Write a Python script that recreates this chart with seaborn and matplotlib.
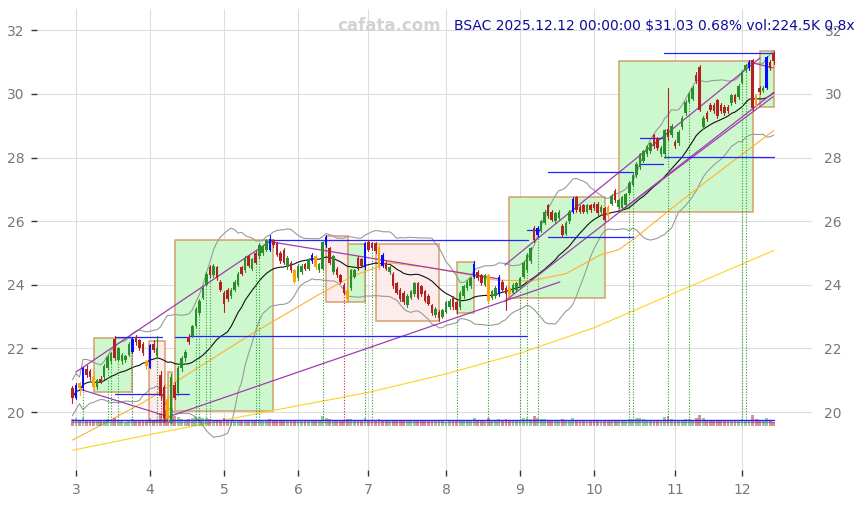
import numpy as np
import pandas as pd
import matplotlib
matplotlib.use("Agg")
import matplotlib.pyplot as plt
import seaborn as sns
from matplotlib.patches import Rectangle

# ---------------- data (trading-day index 0..199, Feb 28 - Dec 12 2025) ----------------
opens = [
    20.75, 20.45, 20.90, 20.75, 21.35, 21.30, 21.10, 20.80, 21.05, 21.10,
    21.40, 21.60, 22.30, 21.65, 21.60, 21.65, 21.80, 21.90, 22.35, 22.25,
    22.15, 21.60, 21.40, 22.15, 21.75, 21.15, 20.80, 20.40, 19.75, 20.85,
    20.60, 21.40, 21.70, 22.35, 22.40, 22.70, 23.10, 23.60, 24.00, 24.55,
    24.30, 24.55, 24.10, 23.75, 23.85, 23.65, 23.85, 24.00, 24.55, 24.45,
    24.90, 24.50, 25.00, 24.90, 25.00, 25.10, 25.45, 25.40, 25.30, 25.00,
    25.10, 24.55, 24.70, 24.45, 24.20, 24.40, 24.65, 24.50, 24.75, 24.90,
    24.45, 24.50, 25.25, 25.15, 24.40, 24.50, 24.30, 24.00, 23.85, 23.90,
    24.25, 24.85, 24.80, 24.55, 25.35, 25.30, 25.30, 25.20, 24.95, 24.70,
    24.40, 24.35, 24.05, 23.85, 23.75, 23.35, 23.60, 23.70, 24.05, 23.95,
    23.80, 23.65, 23.35, 23.05, 23.15, 23.00, 23.15, 23.30, 23.60, 23.45,
    23.30, 23.65, 23.90, 23.95, 24.25, 24.40, 24.30, 24.00, 24.30, 23.60,
    23.65, 23.70, 24.10, 23.90, 23.90, 23.75, 23.85, 23.95, 24.25, 24.45,
    24.75, 25.80, 25.55, 25.70, 25.95, 26.50, 26.30, 26.00, 26.10, 25.85,
    25.60, 26.00, 26.30, 26.75, 26.45, 26.50, 26.30, 26.50, 26.55, 26.55,
    26.30, 26.40, 26.45, 26.55, 26.95, 26.45, 26.40, 26.50, 26.90, 27.15,
    27.45, 27.70, 27.90, 28.10, 28.20, 28.70, 28.60, 28.10, 28.10, 28.90,
    28.70, 28.50, 28.45, 28.95, 29.40, 29.75, 29.85, 30.60, 30.85, 28.95,
    29.40, 29.65, 29.65, 29.80, 29.65, 29.60, 29.60, 29.70, 29.95, 29.90,
    30.35, 30.75, 30.80, 31.05, 29.95, 30.20, 30.10, 30.20, 31.00, 31.30,
]
highs = [
    20.82, 20.90, 20.95, 21.42, 21.48, 21.35, 21.22, 21.05, 21.12, 21.50,
    21.78, 21.90, 22.38, 22.05, 21.85, 21.80, 22.20, 22.35, 22.42, 22.30,
    22.20, 21.65, 22.15, 22.25, 22.40, 21.30, 20.85, 20.50, 21.20, 20.95,
    21.45, 21.75, 21.95, 22.45, 22.75, 23.30, 23.55, 23.95, 24.40, 24.62,
    24.65, 24.60, 24.15, 23.80, 23.90, 23.90, 24.15, 24.40, 24.60, 24.90,
    24.95, 24.85, 25.05, 25.30, 25.25, 25.45, 25.55, 25.45, 25.35, 25.05,
    25.15, 24.90, 24.75, 24.50, 24.65, 24.65, 24.70, 24.85, 25.00, 24.95,
    24.70, 25.40, 25.55, 25.20, 24.95, 24.55, 24.35, 24.05, 23.90, 24.50,
    24.50, 24.90, 24.85, 25.35, 25.40, 25.35, 25.35, 25.25, 25.00, 24.75,
    24.60, 24.40, 24.10, 23.90, 23.80, 23.70, 23.85, 24.10, 24.10, 24.00,
    23.85, 23.70, 23.40, 23.30, 23.20, 23.25, 23.50, 23.55, 23.65, 23.50,
    23.80, 24.00, 24.15, 24.25, 24.75, 24.45, 24.35, 24.35, 24.35, 23.85,
    23.95, 24.30, 24.15, 23.95, 23.95, 24.05, 24.10, 24.25, 24.75, 25.00,
    25.20, 25.85, 25.85, 26.05, 26.35, 26.55, 26.35, 26.30, 26.35, 25.90,
    26.00, 26.35, 26.75, 26.80, 26.50, 26.55, 26.55, 26.55, 26.60, 26.60,
    26.50, 26.45, 26.50, 26.85, 27.00, 26.70, 26.80, 26.90, 27.25, 27.50,
    27.85, 28.15, 28.25, 28.40, 28.50, 28.75, 28.65, 28.35, 28.90, 30.20,
    29.05, 28.55, 28.85, 29.30, 29.80, 30.05, 30.25, 30.70, 30.90, 29.30,
    29.45, 29.70, 29.70, 29.85, 29.70, 29.65, 29.65, 30.00, 30.00, 30.30,
    30.75, 30.95, 31.05, 31.10, 30.00, 30.25, 30.25, 31.20, 31.05, 31.35,
]
lows = [
    20.28, 20.40, 20.55, 20.70, 21.10, 21.00, 20.70, 20.72, 20.90, 21.05,
    21.35, 21.55, 21.65, 21.60, 21.50, 21.58, 21.75, 21.85, 22.10, 21.95,
    21.80, 21.35, 21.38, 21.90, 21.70, 20.40, 19.70, 19.72, 19.65, 20.40,
    20.55, 21.30, 21.60, 22.15, 22.35, 22.65, 23.05, 23.55, 23.95, 24.25,
    24.25, 24.15, 23.80, 23.15, 23.50, 23.60, 23.80, 23.95, 24.30, 24.40,
    24.55, 24.45, 24.65, 24.85, 24.95, 25.05, 25.05, 25.20, 24.90, 24.70,
    24.65, 24.50, 24.40, 24.05, 24.15, 24.35, 24.45, 24.45, 24.70, 24.50,
    24.40, 24.45, 25.20, 24.65, 24.35, 24.25, 24.05, 23.70, 23.50, 23.85,
    24.20, 24.45, 24.55, 24.50, 25.05, 25.10, 25.00, 24.50, 24.55, 24.45,
    24.35, 23.90, 23.70, 23.50, 23.40, 23.30, 23.55, 23.65, 23.55, 23.65,
    23.45, 23.35, 23.05, 23.00, 22.85, 22.95, 23.10, 23.25, 23.25, 23.10,
    23.25, 23.60, 23.85, 23.90, 24.20, 24.15, 24.00, 23.95, 23.45, 23.55,
    23.60, 23.65, 23.80, 23.20, 23.65, 23.70, 23.80, 23.90, 24.20, 24.40,
    24.70, 25.35, 25.50, 25.65, 25.90, 26.10, 26.00, 25.95, 26.05, 25.50,
    25.55, 25.95, 26.25, 26.30, 26.25, 26.25, 26.25, 26.30, 26.35, 26.20,
    26.25, 26.00, 26.10, 26.50, 26.60, 26.40, 26.35, 26.45, 26.85, 27.10,
    27.40, 27.65, 27.85, 28.05, 28.15, 28.30, 28.25, 28.05, 28.00, 28.55,
    28.65, 28.30, 28.40, 28.90, 29.35, 29.70, 29.80, 30.35, 29.45, 28.90,
    29.15, 29.45, 29.40, 29.25, 29.40, 29.35, 29.40, 29.65, 29.70, 29.85,
    30.30, 30.70, 30.75, 29.50, 29.60, 30.00, 30.05, 30.15, 30.75, 30.95,
]
closes = [
    20.45, 20.85, 20.75, 21.40, 21.15, 21.10, 20.80, 21.00, 20.95, 21.45,
    21.72, 21.85, 21.70, 22.00, 21.80, 21.75, 22.15, 22.30, 22.20, 22.00,
    21.85, 21.45, 22.10, 21.95, 22.00, 20.50, 19.80, 19.80, 21.10, 20.45,
    21.40, 21.70, 21.90, 22.20, 22.70, 23.25, 23.50, 23.90, 24.35, 24.30,
    24.60, 24.20, 23.85, 23.40, 23.55, 23.85, 24.10, 24.35, 24.35, 24.85,
    24.60, 24.80, 24.70, 25.25, 25.20, 25.40, 25.10, 25.25, 24.95, 24.75,
    24.70, 24.85, 24.45, 24.10, 24.60, 24.60, 24.50, 24.80, 24.95, 24.55,
    24.65, 25.35, 25.50, 24.70, 24.90, 24.30, 24.10, 23.75, 23.55, 24.45,
    24.45, 24.50, 24.60, 25.30, 25.10, 25.15, 25.05, 24.55, 24.60, 24.50,
    24.55, 23.95, 23.75, 23.55, 23.45, 23.65, 23.80, 24.05, 23.60, 23.70,
    23.50, 23.40, 23.10, 23.25, 22.95, 23.20, 23.45, 23.50, 23.30, 23.20,
    23.75, 23.95, 24.10, 24.20, 24.65, 24.20, 24.05, 24.30, 23.50, 23.80,
    23.90, 24.25, 23.85, 23.70, 23.70, 24.00, 24.05, 24.20, 24.70, 24.95,
    25.15, 25.40, 25.80, 26.00, 26.30, 26.15, 26.05, 26.25, 26.30, 25.55,
    25.95, 26.30, 26.70, 26.35, 26.30, 26.30, 26.50, 26.35, 26.40, 26.25,
    26.45, 26.05, 26.15, 26.80, 26.65, 26.65, 26.75, 26.85, 27.20, 27.45,
    27.80, 28.10, 28.20, 28.35, 28.45, 28.35, 28.30, 28.30, 28.85, 28.65,
    29.00, 28.35, 28.80, 29.25, 29.75, 30.00, 30.20, 30.40, 29.50, 29.25,
    29.20, 29.50, 29.45, 29.30, 29.45, 29.40, 29.45, 29.95, 29.75, 30.25,
    30.70, 30.90, 31.00, 29.55, 29.65, 30.05, 30.20, 31.15, 30.82, 31.03,
]
volumes_k = [
    380, 420, 350, 510, 330, 300, 360, 280, 290, 340,
    390, 310, 450, 300, 260, 250, 330, 370, 290, 280,
    310, 350, 420, 300, 380, 720, 880, 760, 950, 520,
    480, 410, 360, 390, 420, 510, 470, 440, 460, 380,
    350, 330, 360, 420, 340, 290, 300, 320, 310, 350,
    300, 280, 330, 360, 290, 340, 400, 310, 330, 300,
    350, 290, 280, 340, 310, 270, 260, 300, 330, 290,
    280, 520, 440, 380, 330, 300, 310, 350, 400, 370,
    290, 310, 280, 460, 330, 300, 280, 370, 340, 290,
    260, 330, 350, 320, 310, 290, 270, 300, 320, 280,
    300, 290, 340, 280, 310, 260, 250, 270, 300, 280,
    330, 310, 290, 300, 420, 310, 280, 300, 450, 320,
    290, 380, 300, 410, 330, 290, 310, 300, 420, 450,
    400, 520, 430, 380, 410, 360, 330, 300, 290, 380,
    320, 300, 420, 350, 290, 280, 260, 270, 300, 290,
    280, 330, 350, 300, 310, 290, 300, 310, 380, 400,
    430, 420, 380, 350, 360, 340, 310, 300, 480, 560,
    380, 330, 300, 350, 400, 380, 360, 420, 600, 450,
    330, 300, 290, 340, 310, 280, 290, 320, 300, 330,
    380, 350, 330, 620, 380, 300, 290, 430, 280, 224.5,
]
blue_days = [1, 3, 17, 22, 56, 68, 72, 83, 88, 114, 121, 132, 142, 192, 197]
orange_days = [2, 6, 21, 27, 63, 69, 78, 87, 118, 124, 152, 194]
green_signal_days = [3, 10, 11, 13, 17, 24, 35, 36, 38, 39, 52, 53, 71, 83, 85,
                     109, 118, 127, 129, 132, 158, 159, 169, 175, 190, 191]
red_signal_days = [25, 27, 77]

month_tick_pos = [1, 22, 43, 64, 84, 106, 127, 148, 171, 190]
month_tick_labels = ["3", "4", "5", "6", "7", "8", "9", "10", "11", "12"]
price_ticks = [20, 22, 24, 26, 28, 30, 32]

# long moving averages (need history before the window)
ma_mid_idx = [0, 10, 20, 30, 40, 50, 60, 70, 80, 90, 100, 110, 120, 130, 140,
              150, 155, 160, 170, 180, 190, 199]
ma_mid_val = [19.12, 19.70, 20.30, 21.00, 21.70, 22.40, 23.05, 23.70, 24.30, 24.69,
              24.56, 24.37, 24.15, 24.12, 24.35, 24.95, 25.10, 25.50, 26.40, 27.26,
              28.10, 28.85]
ma_long_idx = [0, 20, 43, 64, 84, 106, 127, 148, 171, 190, 199]
ma_long_val = [18.80, 19.25, 19.75, 20.20, 20.62, 21.20, 21.85, 22.65, 23.75, 24.65, 25.08]

# consolidation boxes
box_start = [6.1, 21.7, 27.1, 29.1, 72.0, 78.2, 86.1, 109.1, 123.9, 155.1, 195.1]
box_end = [16.9, 26.3, 28.2, 57.0, 78.2, 83.0, 104.0, 113.9, 151.1, 193.1, 199.1]
box_low = [20.63, 19.70, 19.70, 20.03, 23.46, 23.46, 22.86, 23.11, 23.58, 26.29, 29.59]
box_high = [22.33, 22.23, 21.26, 25.41, 25.53, 25.28, 25.28, 24.72, 26.76, 31.04, 31.35]
box_kind = ["up", "down", "up", "up", "down", "up", "down", "up", "up", "up", "up"]

# trend lines
trend_x0 = [1.0, 2.1, 56.3, 27.7, 122.7, 122.7, 155.1, 193.1]
trend_y0 = [21.26, 20.72, 25.35, 19.87, 24.62, 23.49, 26.29, 30.97]
trend_x1 = [56.6, 27.7, 121.3, 138.3, 195.1, 198.8, 198.8, 198.8]
trend_y1 = [25.41, 19.84, 24.18, 24.09, 31.13, 30.03, 29.91, 30.82]

# horizontal support / resistance levels
level_start = [12.0, 12.0, 29.0, 29.0, 33.0, 56.0, 135.0, 135.0, 161.0, 161.0, 167.9, 167.9, 129.0]
level_end = [25.5, 25.5, 33.0, 33.0, 128.9, 129.3, 159.0, 159.0, 167.5, 167.5, 199.1, 199.1, 133.0]
level_price = [22.36, 20.57, 22.36, 20.57, 22.40, 25.41, 27.55, 25.50, 28.62, 27.80, 28.02, 31.29, 25.72]

title_text = "BSAC 2025.12.12 00:00:00 $31.03 0.68% vol:224.5K 0.8x"
watermark = "cafata.com"

# ---------------- drawing ----------------
sns.set_theme(style="whitegrid")
plt.rcParams['font.family'] = ['DejaVu Sans']

fig = plt.figure(figsize=(8.64, 5.05), dpi=100)
ax = fig.add_axes([0.0428, 0.0693, 0.897, 0.913])

n = len(closes)
idx = np.arange(n)
df = pd.DataFrame({"i": idx, "open": opens, "high": highs, "low": lows,
                   "close": closes, "vol": volumes_k})

# boxes
for s, e, lo, hi, k in zip(box_start, box_end, box_low, box_high, box_kind):
    fc = "#c8f8c8" if k == "up" else "#fdeaea"
    ax.add_patch(Rectangle((s, lo), e - s, hi - lo, facecolor=fc, edgecolor="#d4955f",
                           linewidth=1.1, alpha=0.9, zorder=1))

# indicators
ma20 = df["close"].rolling(20, min_periods=1).mean()
sd20 = df["close"].rolling(20, min_periods=2).std().bfill()
sns.lineplot(x=idx, y=ma20 + 2 * sd20, ax=ax, color="#9a9a9a", linewidth=0.8, zorder=2)
sns.lineplot(x=idx, y=ma20 - 2 * sd20, ax=ax, color="#9a9a9a", linewidth=0.8, zorder=2)
sns.lineplot(x=idx, y=ma20, ax=ax, color="#111111", linewidth=0.8, zorder=2)
sns.lineplot(x=ma_mid_idx, y=ma_mid_val, ax=ax, color="#ffb02e", linewidth=0.8, zorder=2)
sns.lineplot(x=ma_long_idx, y=ma_long_val, ax=ax, color="#ffd21f", linewidth=0.8, zorder=2)

# trend lines
for x0, y0, x1, y1 in zip(trend_x0, trend_y0, trend_x1, trend_y1):
    ax.plot([x0, x1], [y0, y1], color="#a03cb0", linewidth=0.9, zorder=3)

# levels
for s, e, p in zip(level_start, level_end, level_price):
    ax.plot([s, e], [p, p], color="#2323ff", linewidth=0.9, zorder=3)

# signal dotted lines
for d in green_signal_days:
    ax.plot([d, d], [19.75, lows[d]], color="#2ca02c", linestyle=(0, (1, 1.5)), linewidth=0.8, zorder=2)
for d in red_signal_days:
    ax.plot([d, d], [19.75, lows[d]], color="#d62728", linestyle=(0, (1, 1.5)), linewidth=0.8, zorder=2)

# volume bars at the bottom
vol_base = 19.55
vol_scale = 0.0006
vcolors = ["#2e9a2e" if c >= o else "#b22222" for o, c in zip(opens, closes)]
ax.bar(idx, df["vol"] * vol_scale, bottom=vol_base, width=0.8, color=vcolors, alpha=0.5,
       linewidth=0, zorder=3)
ax.plot([0, n - 1], [19.76, 19.76], color="#2323ff", linewidth=1.0, zorder=3)
ax.plot([0, n - 1], [19.70, 19.70], color="#8e4a9a", linewidth=0.8, alpha=0.7, zorder=3)

# candles
for i in range(n):
    o, h, l, c = opens[i], highs[i], lows[i], closes[i]
    if i in blue_days:
        col = "#0a0aff"
    elif i in orange_days:
        col = "#ffa500"
    else:
        col = "#2a8f2a" if c >= o else "#b22222"
    ax.plot([i, i], [l, h], color=col, linewidth=0.8, zorder=4)
    body = max(abs(c - o), 0.02)
    ax.bar(i, body, bottom=min(o, c), width=0.72, color=col, linewidth=0, zorder=5)

# axes styling
ax.set_xlim(-10.07, 209.85)
ax.set_ylim(18.18, 32.67)
ax.set_xticks(month_tick_pos)
ax.set_xticklabels(month_tick_labels)
ax.set_yticks(price_ticks)
ax.set_xlabel("")
ax.set_ylabel("")
for sp in ax.spines.values():
    sp.set_visible(False)
ax.grid(True, color="#dddddd", linewidth=0.8)
ax.set_axisbelow(True)
ax.tick_params(axis="both", colors="#777777", labelsize=10)
ax.tick_params(axis="y", left=True, right=False, labelleft=True, labelright=True,
               length=4, width=1, color="#333333", pad=5)
ax.tick_params(axis="x", bottom=True, length=4, width=1, color="#333333", pad=5)
for lab in ax.get_yticklabels() + ax.get_xticklabels():
    lab.set_color("#777777")

fig.text(389 / 864, 1 - 26 / 505, watermark, ha="center", va="center", fontsize=12,
         fontweight="bold", color="#d3d3d3")
fig.text(454 / 864, 1 - 26 / 505, title_text, ha="left", va="center", fontsize=10,
         color="#0c0c9a")

fig.savefig("out.png", dpi=100)
